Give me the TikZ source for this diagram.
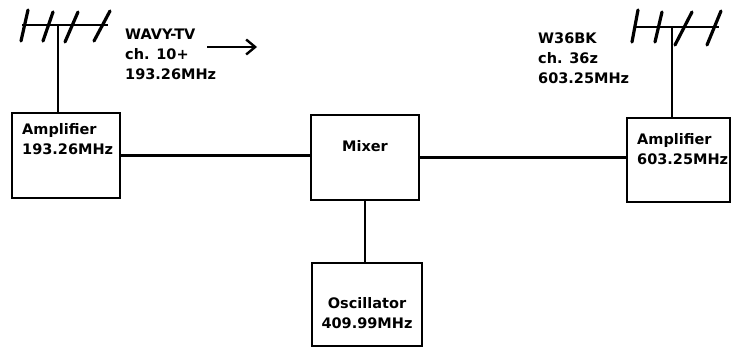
\documentclass[tikz,border=0pt]{standalone}
\usepackage{fontspec}
\setmainfont{DejaVu Sans}
\usetikzlibrary{arrows.meta}
\begin{document}
\begin{tikzpicture}[x=1pt,y=-1pt,
  box/.style={draw,line width=2.4pt,inner sep=0pt,rectangle},
  lbl/.style={inner sep=0pt,align=left,font=\bfseries\fontsize{14.5}{20}\selectfont},
  clbl/.style={inner sep=0pt,align=center,font=\bfseries\fontsize{14.5}{20}\selectfont},
  wire/.style={line width=2.4pt},
  elem/.style={line width=3.2pt,line cap=round},
  boom/.style={line width=2.4pt}]
\useasboundingbox (0,0) rectangle (732,348);
\fill[white] (0,0) rectangle (732,348);
% boxes
\node[box,minimum width=108pt,minimum height=85pt] (lamp) at (66,155.5) {};
\node[box,minimum width=108pt,minimum height=85pt] (mixer) at (365,157.5) {};
\node[box,minimum width=103pt,minimum height=84pt] (ramp) at (678.5,160) {};
\node[box,minimum width=110pt,minimum height=83pt] (osc) at (367,304.5) {};
% box texts
\node[lbl,anchor=north west] (lampt) at (22,123) {Amplifier\\193.26MHz};
\node[clbl,anchor=north] (mixt) at (365,140) {Mixer};
\node[lbl,anchor=north west] (rampt) at (637,133) {Amplifier\\603.25MHz};
\node[clbl,anchor=north] (osct) at (367,297) {Oscillator\\409.99MHz};
% station texts
\node[lbl,anchor=north west] (wavy) at (125,29) {WAVY-TV\\ch. 10+\\193.26MHz};
\node[lbl,anchor=north west] (w36) at (538,33) {W36BK\\ch. 36z\\603.25MHz};
% connectors
\draw[wire] (lamp.east) -- (lamp.east -| mixer.west);
\draw[wire] (mixer.east) -- (mixer.east -| ramp.west);
\draw[wire] (mixer.south) -- (mixer.south |- osc.north);
% arrow
\coordinate (a1) at (207,47);
\coordinate (a2) at (257,47);
\draw[wire,-{Straight Barb[length=9pt,width=15pt,line width=2.4pt]}] (a1) -- (a2);
% left antenna
\coordinate (lmast) at (58,25);
\draw[boom] (22,25) -- (108,25);
\draw[wire] (lmast) -- (lmast |- lamp.north);
\draw[elem] (21,41) -- (28,10);
\draw[elem] (43,41) -- (53,12);
\draw[elem] (65,42) -- (78,12);
\draw[elem] (94,41) -- (110,11);
% right antenna
\coordinate (rmast) at (672,27);
\draw[boom] (634,27) -- (719,27);
\draw[wire] (rmast) -- (rmast |- ramp.north);
\draw[elem] (632,42) -- (638,10);
\draw[elem] (655,42) -- (662,12);
\draw[elem] (675,45) -- (692,12);
\draw[elem] (707,45) -- (721,11);
\end{tikzpicture}
\end{document}
